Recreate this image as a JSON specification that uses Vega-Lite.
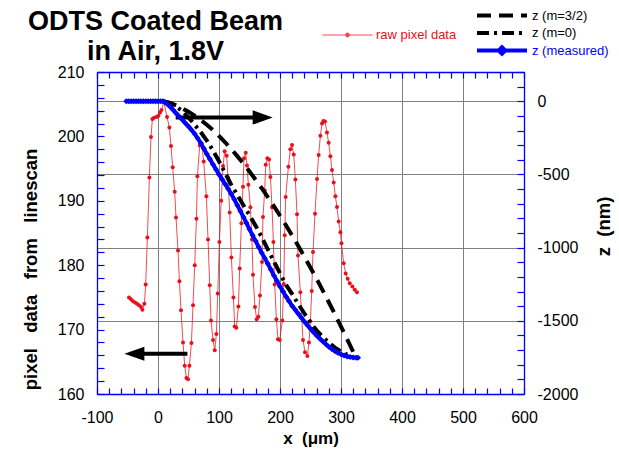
{
  "$schema": "https://vega.github.io/schema/vega-lite/v6.json",
  "width": 427,
  "height": 322,
  "autosize": {"type": "none"},
  "padding": {"left": 97, "top": 72, "right": 95, "bottom": 55},
  "background": "white",
  "config": {
    "font": "Liberation Sans",
    "view": {"stroke": null},
    "axis": {"labelFont": "Liberation Sans", "titleFont": "Liberation Sans", "labelColor": "#000000", "titleColor": "#000000"},
    "legend": {"labelFont": "Liberation Sans"}
  },
  "title": {
    "text": ["ODTS Coated Beam", "in Air, 1.8V"],
    "frame": "group",
    "anchor": "start",
    "align": "center",
    "dx": 58.5,
    "dy": 92,
    "fontSize": 27,
    "fontWeight": "bold",
    "lineHeight": 30,
    "offset": 13,
    "baseline": "alphabetic",
    "color": "#000000",
    "font": "Liberation Sans"
  },
  "datasets": {
    "raw": [
      {"x": -47.5, "v": 175.0}, {"x": -44.3, "v": 174.7}, {"x": -41.0, "v": 174.4}, {"x": -37.7, "v": 174.2},
      {"x": -34.4, "v": 174.0}, {"x": -31.1, "v": 173.8}, {"x": -27.9, "v": 173.5}, {"x": -25.6, "v": 173.1},
      {"x": -22.3, "v": 174.0}, {"x": -20.2, "v": 177.0}, {"x": -17.4, "v": 184.3}, {"x": -14.1, "v": 193.6},
      {"x": -11.5, "v": 199.9}, {"x": -9.2, "v": 202.7}, {"x": -6.6, "v": 202.9}, {"x": -2.6, "v": 203.0},
      {"x": 0.7, "v": 203.2}, {"x": 3.3, "v": 203.7}, {"x": 5.6, "v": 204.1}, {"x": 9.8, "v": 205.3},
      {"x": 14.8, "v": 203.0}, {"x": 18.7, "v": 201.4}, {"x": 21.3, "v": 198.5}, {"x": 24.1, "v": 195.2},
      {"x": 27.4, "v": 191.4}, {"x": 29.5, "v": 187.4}, {"x": 32.8, "v": 182.3}, {"x": 35.1, "v": 177.5},
      {"x": 37.7, "v": 173.0}, {"x": 41.0, "v": 168.0}, {"x": 43.8, "v": 164.4}, {"x": 46.6, "v": 162.5},
      {"x": 49.2, "v": 162.3}, {"x": 51.5, "v": 164.4}, {"x": 54.8, "v": 167.9}, {"x": 57.4, "v": 173.8},
      {"x": 60.2, "v": 180.0}, {"x": 63.0, "v": 187.2}, {"x": 64.6, "v": 193.8}, {"x": 68.4, "v": 198.6},
      {"x": 71.6, "v": 198.9}, {"x": 74.9, "v": 196.1}, {"x": 79.3, "v": 190.7}, {"x": 82.0, "v": 184.0},
      {"x": 84.8, "v": 176.9}, {"x": 86.9, "v": 171.4}, {"x": 90.2, "v": 168.4}, {"x": 93.0, "v": 166.8},
      {"x": 95.7, "v": 169.3}, {"x": 97.9, "v": 175.6}, {"x": 100.7, "v": 183.6}, {"x": 103.6, "v": 190.0},
      {"x": 106.6, "v": 195.4}, {"x": 109.3, "v": 197.7}, {"x": 112.6, "v": 197.0}, {"x": 114.8, "v": 193.6},
      {"x": 117.5, "v": 188.2}, {"x": 120.3, "v": 181.2}, {"x": 123.6, "v": 175.0}, {"x": 125.7, "v": 170.5},
      {"x": 128.5, "v": 170.3}, {"x": 131.8, "v": 173.6}, {"x": 133.9, "v": 179.5}, {"x": 136.7, "v": 186.5},
      {"x": 139.3, "v": 192.2}, {"x": 141.0, "v": 196.6}, {"x": 143.8, "v": 197.45}, {"x": 145.9, "v": 195.5},
      {"x": 148.2, "v": 192.5}, {"x": 151.5, "v": 189.0}, {"x": 154.0, "v": 184.0}, {"x": 155.7, "v": 178.5},
      {"x": 159.0, "v": 173.5}, {"x": 161.8, "v": 171.6}, {"x": 164.6, "v": 172.0}, {"x": 167.2, "v": 175.3},
      {"x": 170.5, "v": 180.5}, {"x": 172.1, "v": 187.5}, {"x": 174.9, "v": 191.6}, {"x": 176.6, "v": 195.6},
      {"x": 179.3, "v": 196.6}, {"x": 182.0, "v": 196.4}, {"x": 184.3, "v": 193.7}, {"x": 186.9, "v": 189.0},
      {"x": 189.2, "v": 183.6}, {"x": 191.3, "v": 177.0}, {"x": 194.1, "v": 171.6}, {"x": 196.7, "v": 168.5},
      {"x": 199.5, "v": 168.4}, {"x": 203.9, "v": 171.4}, {"x": 206.1, "v": 177.1}, {"x": 207.7, "v": 184.65},
      {"x": 209.3, "v": 190.6}, {"x": 213.8, "v": 195.3}, {"x": 217.0, "v": 198.0}, {"x": 219.7, "v": 198.65},
      {"x": 222.5, "v": 197.2}, {"x": 225.2, "v": 193.3}, {"x": 227.9, "v": 187.9}, {"x": 229.5, "v": 181.5},
      {"x": 233.4, "v": 175.8}, {"x": 237.7, "v": 168.4}, {"x": 241.0, "v": 166.5}, {"x": 244.9, "v": 165.9},
      {"x": 247.5, "v": 168.0}, {"x": 249.8, "v": 171.3}, {"x": 252.0, "v": 176.0}, {"x": 254.1, "v": 182.05},
      {"x": 257.4, "v": 188.0}, {"x": 260.7, "v": 193.4}, {"x": 263.4, "v": 197.1}, {"x": 266.2, "v": 200.1},
      {"x": 268.9, "v": 202.0}, {"x": 271.1, "v": 202.4}, {"x": 273.8, "v": 202.3}, {"x": 277.0, "v": 200.6},
      {"x": 279.8, "v": 199.0}, {"x": 282.6, "v": 196.9}, {"x": 285.2, "v": 194.8}, {"x": 288.0, "v": 192.85},
      {"x": 290.8, "v": 190.7}, {"x": 293.4, "v": 189.05}, {"x": 296.2, "v": 186.8}, {"x": 299.0, "v": 185.1},
      {"x": 300.7, "v": 183.4}, {"x": 304.4, "v": 180.3}, {"x": 307.7, "v": 178.7}, {"x": 311.0, "v": 177.9},
      {"x": 314.3, "v": 177.2}, {"x": 318.7, "v": 176.7}, {"x": 322.5, "v": 176.2}, {"x": 326.2, "v": 175.8}
    ],
    "shafts": [
      {"x": 29, "x2": 162, "y": 202.95},
      {"x": -32, "x2": 48.2, "y": 166.25}
    ],
    "heads": [
      {"x": 171.6, "y": 202.95, "dir": "right"},
      {"x": -38.7, "y": 166.25, "dir": "left"}
    ],
    "z": [
      {"s": "z (m=3/2)", "x": 8, "z": 0}, {"s": "z (m=3/2)", "x": 20, "z": -12}, {"s": "z (m=3/2)", "x": 30, "z": -29},
      {"s": "z (m=3/2)", "x": 40, "z": -49}, {"s": "z (m=3/2)", "x": 50, "z": -72}, {"s": "z (m=3/2)", "x": 60, "z": -98},
      {"s": "z (m=3/2)", "x": 70, "z": -128}, {"s": "z (m=3/2)", "x": 80, "z": -160}, {"s": "z (m=3/2)", "x": 90, "z": -196},
      {"s": "z (m=3/2)", "x": 100, "z": -237}, {"s": "z (m=3/2)", "x": 110, "z": -280}, {"s": "z (m=3/2)", "x": 120, "z": -326},
      {"s": "z (m=3/2)", "x": 130, "z": -375}, {"s": "z (m=3/2)", "x": 140, "z": -426}, {"s": "z (m=3/2)", "x": 150, "z": -480},
      {"s": "z (m=3/2)", "x": 160, "z": -536}, {"s": "z (m=3/2)", "x": 170, "z": -594}, {"s": "z (m=3/2)", "x": 180, "z": -655},
      {"s": "z (m=3/2)", "x": 190, "z": -717}, {"s": "z (m=3/2)", "x": 200, "z": -782}, {"s": "z (m=3/2)", "x": 210, "z": -849},
      {"s": "z (m=3/2)", "x": 220, "z": -918}, {"s": "z (m=3/2)", "x": 230, "z": -989}, {"s": "z (m=3/2)", "x": 240, "z": -1062},
      {"s": "z (m=3/2)", "x": 250, "z": -1137}, {"s": "z (m=3/2)", "x": 260, "z": -1213}, {"s": "z (m=3/2)", "x": 270, "z": -1292},
      {"s": "z (m=3/2)", "x": 280, "z": -1373}, {"s": "z (m=3/2)", "x": 290, "z": -1455}, {"s": "z (m=3/2)", "x": 300, "z": -1539},
      {"s": "z (m=3/2)", "x": 310, "z": -1625}, {"s": "z (m=3/2)", "x": 320, "z": -1712},
      {"s": "z (m=0)", "x": 8, "z": 0}, {"s": "z (m=0)", "x": 20, "z": -12}, {"s": "z (m=0)", "x": 30, "z": -35},
      {"s": "z (m=0)", "x": 40, "z": -68}, {"s": "z (m=0)", "x": 50, "z": -110}, {"s": "z (m=0)", "x": 60, "z": -160},
      {"s": "z (m=0)", "x": 70, "z": -210}, {"s": "z (m=0)", "x": 80, "z": -268}, {"s": "z (m=0)", "x": 90, "z": -335},
      {"s": "z (m=0)", "x": 100, "z": -410}, {"s": "z (m=0)", "x": 110, "z": -490}, {"s": "z (m=0)", "x": 120, "z": -570},
      {"s": "z (m=0)", "x": 130, "z": -640}, {"s": "z (m=0)", "x": 140, "z": -710}, {"s": "z (m=0)", "x": 150, "z": -778},
      {"s": "z (m=0)", "x": 160, "z": -850}, {"s": "z (m=0)", "x": 170, "z": -928}, {"s": "z (m=0)", "x": 180, "z": -1012},
      {"s": "z (m=0)", "x": 190, "z": -1095}, {"s": "z (m=0)", "x": 200, "z": -1175}, {"s": "z (m=0)", "x": 210, "z": -1255},
      {"s": "z (m=0)", "x": 220, "z": -1318}, {"s": "z (m=0)", "x": 230, "z": -1385}, {"s": "z (m=0)", "x": 240, "z": -1450},
      {"s": "z (m=0)", "x": 250, "z": -1512}, {"s": "z (m=0)", "x": 260, "z": -1565}, {"s": "z (m=0)", "x": 270, "z": -1610},
      {"s": "z (m=0)", "x": 280, "z": -1648}, {"s": "z (m=0)", "x": 290, "z": -1683}, {"s": "z (m=0)", "x": 300, "z": -1710},
      {"s": "z (m=0)", "x": 310, "z": -1730},
      {"s": "z (measured)", "x": -52, "z": 0}, {"s": "z (measured)", "x": -48, "z": 0}, {"s": "z (measured)", "x": -44, "z": 0},
      {"s": "z (measured)", "x": -40, "z": 0}, {"s": "z (measured)", "x": -36, "z": 0}, {"s": "z (measured)", "x": -32, "z": 0},
      {"s": "z (measured)", "x": -28, "z": 0}, {"s": "z (measured)", "x": -24, "z": 0}, {"s": "z (measured)", "x": -20, "z": 0},
      {"s": "z (measured)", "x": -16, "z": 0}, {"s": "z (measured)", "x": -12, "z": 0}, {"s": "z (measured)", "x": -8, "z": 0},
      {"s": "z (measured)", "x": -4, "z": 0}, {"s": "z (measured)", "x": 0, "z": 0}, {"s": "z (measured)", "x": 4, "z": 0},
      {"s": "z (measured)", "x": 8, "z": 0}, {"s": "z (measured)", "x": 10, "z": -3}, {"s": "z (measured)", "x": 15, "z": -18},
      {"s": "z (measured)", "x": 20, "z": -38}, {"s": "z (measured)", "x": 25, "z": -60}, {"s": "z (measured)", "x": 30, "z": -83},
      {"s": "z (measured)", "x": 35, "z": -105}, {"s": "z (measured)", "x": 40, "z": -127}, {"s": "z (measured)", "x": 45, "z": -150},
      {"s": "z (measured)", "x": 50, "z": -172}, {"s": "z (measured)", "x": 55, "z": -196}, {"s": "z (measured)", "x": 60, "z": -222},
      {"s": "z (measured)", "x": 65, "z": -252}, {"s": "z (measured)", "x": 70, "z": -285}, {"s": "z (measured)", "x": 75, "z": -322},
      {"s": "z (measured)", "x": 80, "z": -360}, {"s": "z (measured)", "x": 85, "z": -395}, {"s": "z (measured)", "x": 90, "z": -430},
      {"s": "z (measured)", "x": 95, "z": -465}, {"s": "z (measured)", "x": 100, "z": -500}, {"s": "z (measured)", "x": 105, "z": -532},
      {"s": "z (measured)", "x": 110, "z": -565}, {"s": "z (measured)", "x": 115, "z": -598}, {"s": "z (measured)", "x": 120, "z": -632},
      {"s": "z (measured)", "x": 125, "z": -670}, {"s": "z (measured)", "x": 130, "z": -710}, {"s": "z (measured)", "x": 135, "z": -750},
      {"s": "z (measured)", "x": 140, "z": -790}, {"s": "z (measured)", "x": 145, "z": -832}, {"s": "z (measured)", "x": 150, "z": -875},
      {"s": "z (measured)", "x": 155, "z": -915}, {"s": "z (measured)", "x": 160, "z": -955}, {"s": "z (measured)", "x": 165, "z": -995},
      {"s": "z (measured)", "x": 170, "z": -1035}, {"s": "z (measured)", "x": 175, "z": -1072}, {"s": "z (measured)", "x": 180, "z": -1110},
      {"s": "z (measured)", "x": 185, "z": -1150}, {"s": "z (measured)", "x": 190, "z": -1190}, {"s": "z (measured)", "x": 195, "z": -1228},
      {"s": "z (measured)", "x": 200, "z": -1265}, {"s": "z (measured)", "x": 205, "z": -1300}, {"s": "z (measured)", "x": 210, "z": -1335},
      {"s": "z (measured)", "x": 215, "z": -1367}, {"s": "z (measured)", "x": 220, "z": -1398}, {"s": "z (measured)", "x": 225, "z": -1425},
      {"s": "z (measured)", "x": 230, "z": -1452}, {"s": "z (measured)", "x": 235, "z": -1479}, {"s": "z (measured)", "x": 240, "z": -1505},
      {"s": "z (measured)", "x": 245, "z": -1530}, {"s": "z (measured)", "x": 250, "z": -1555}, {"s": "z (measured)", "x": 255, "z": -1578},
      {"s": "z (measured)", "x": 260, "z": -1600}, {"s": "z (measured)", "x": 265, "z": -1620}, {"s": "z (measured)", "x": 270, "z": -1640},
      {"s": "z (measured)", "x": 275, "z": -1659}, {"s": "z (measured)", "x": 280, "z": -1677}, {"s": "z (measured)", "x": 285, "z": -1693},
      {"s": "z (measured)", "x": 290, "z": -1707}, {"s": "z (measured)", "x": 295, "z": -1719}, {"s": "z (measured)", "x": 300, "z": -1729},
      {"s": "z (measured)", "x": 305, "z": -1737}, {"s": "z (measured)", "x": 310, "z": -1743}, {"s": "z (measured)", "x": 315, "z": -1747},
      {"s": "z (measured)", "x": 320, "z": -1750}, {"s": "z (measured)", "x": 325, "z": -1752}, {"s": "z (measured)", "x": 328, "z": -1753}
    ]
  },
  "layer": [
    {
      "layer": [
        {
          "data": {"name": "raw"},
          "mark": {"type": "line", "strokeWidth": 1, "opacity": 0.75, "point": {"filled": true, "size": 16, "opacity": 1}},
          "encoding": {
            "x": {
              "field": "x", "type": "quantitative",
              "scale": {"domain": [-100, 600], "nice": false, "zero": false},
              "axis": {
                "orient": "bottom",
                "values": [-100, -80, -60, -40, -20, 0, 20, 40, 60, 80, 100, 120, 140, 160, 180, 200, 220, 240, 260, 280, 300, 320, 340, 360, 380, 400, 420, 440, 460, 480, 500, 520, 540, 560, 580, 600],
                "tickCount": 200,
                "labelExpr": "datum.value % 100 === 0 ? '' + datum.value : ''",
                "tickSize": -6,
                "tickColor": "#0000ff", "tickWidth": 1.2,
                "domainColor": "#0000ff", "domainWidth": 1.3,
                "grid": true, "gridColor": "#808080", "gridWidth": 1,
                "gridOpacity": {"condition": {"test": "datum.value % 100 === 0 && datum.value > -100 && datum.value < 600", "value": 1}, "value": 0},
                "labelFontSize": 16, "labelPadding": 21, "labelFlush": false, "labelOverlap": false,
                "title": "x\u00a0 (\u03bcm)", "titleFontSize": 17, "titleFontWeight": "bold",
                "titleY": 44, "titleBaseline": "middle"
              }
            },
            "y": {
              "field": "v", "type": "quantitative",
              "scale": {"domain": [160, 210], "nice": false, "zero": false},
              "axis": {
                "orient": "left",
                "values": [160, 162, 164, 166, 168, 170, 172, 174, 176, 178, 180, 182, 184, 186, 188, 190, 192, 194, 196, 198, 200, 202, 204, 206, 208, 210],
                "tickCount": 200,
                "labelExpr": "datum.value % 10 === 0 ? '' + datum.value : ''",
                "tickSize": -7,
                "tickColor": "#0000ff", "tickWidth": 1.2,
                "domainColor": "#0000ff", "domainWidth": 1.3,
                "grid": false,
                "labelFontSize": 16, "labelPadding": 20, "labelFlush": false, "labelOverlap": false,
                "title": "pixel\u00a0\u00a0 data\u00a0\u00a0 from\u00a0\u00a0 linescan", "titleFontSize": 18.5, "titleFontWeight": "bold",
                "titleX": -67, "titleY": 197, "titleBaseline": "middle", "titleAlign": "center", "titleAngle": 270
              }
            },
            "color": {
              "datum": "raw pixel data",
              "type": "nominal",
              "scale": {"domain": ["raw pixel data"], "range": ["#e8101a"]},
              "legend": {
                "orient": "none", "legendX": 225, "legendY": -45, "title": null,
                "symbolType": "M-1,0L1,0M0.08,0A0.08,0.08,0,1,1,-0.08,0A0.08,0.08,0,1,1,0.08,0",
                "symbolSize": 2500, "symbolStrokeWidth": 1,
                "symbolFillColor": "#e8101a", "symbolStrokeColor": "#e8101a",
                "clipHeight": 16, "labelFontSize": 13, "labelOffset": 3, "labelColor": "#e8101a"
              }
            }
          }
        },
        {
          "data": {"name": "shafts"},
          "mark": {"type": "rule", "strokeWidth": 4, "color": "#000000"},
          "encoding": {
            "x": {"field": "x", "type": "quantitative"},
            "x2": {"field": "x2"},
            "y": {"field": "y", "type": "quantitative"}
          }
        },
        {
          "data": {"name": "heads"},
          "mark": {"type": "point", "filled": true, "color": "#000000", "opacity": 1, "size": 400, "strokeWidth": 0},
          "encoding": {
            "x": {"field": "x", "type": "quantitative"},
            "y": {"field": "y", "type": "quantitative"},
            "shape": {
              "field": "dir", "type": "nominal",
              "scale": {"domain": ["right", "left"], "range": ["M-1,-0.72L1,0L-1,0.72Z", "M1,-0.7L-1,0L1,0.7Z"]},
              "legend": null
            }
          }
        }
      ]
    },
    {
      "layer": [
        {
          "data": {"name": "z"},
          "mark": {"type": "line"},
          "encoding": {
            "x": {
              "field": "x", "type": "quantitative",
              "scale": {"domain": [-100, 600], "nice": false, "zero": false},
              "axis": {
                "orient": "top",
                "values": [-100, -80, -60, -40, -20, 0, 20, 40, 60, 80, 100, 120, 140, 160, 180, 200, 220, 240, 260, 280, 300, 320, 340, 360, 380, 400, 420, 440, 460, 480, 500, 520, 540, 560, 580, 600],
                "tickCount": 200,
                "labels": false,
                "tickSize": -6,
                "tickColor": "#0000ff", "tickWidth": 1.2,
                "domainColor": "#0000ff", "domainWidth": 1.3,
                "grid": false, "title": null
              }
            },
            "y": {
              "field": "z", "type": "quantitative",
              "scale": {"domain": [-2000, 200], "nice": false, "zero": false},
              "axis": {
                "orient": "right",
                "values": [-2000, -1900, -1800, -1700, -1600, -1500, -1400, -1300, -1200, -1100, -1000, -900, -800, -700, -600, -500, -400, -300, -200, -100, 0, 100, 200],
                "tickCount": 200,
                "labelExpr": "datum.value % 500 === 0 ? '' + datum.value : ''",
                "tickSize": -7,
                "tickColor": "#0000ff", "tickWidth": 1.2,
                "domainColor": "#0000ff", "domainWidth": 1.3,
                "grid": true, "gridColor": "#808080", "gridWidth": 1,
                "gridOpacity": {"condition": {"test": "datum.value % 500 === 0 && datum.value > -2000 && datum.value < 200", "value": 1}, "value": 0},
                "labelFontSize": 16, "labelPadding": 20, "labelFlush": false, "labelOverlap": false,
                "title": "z\u00a0 (nm)", "titleFontSize": 18.5, "titleFontWeight": "bold",
                "titleX": 79, "titleY": 154, "titleBaseline": "middle", "titleAlign": "center", "titleAngle": 270
              }
            },
            "color": {
              "field": "s", "type": "nominal",
              "scale": {"domain": ["z (m=3/2)", "z (m=0)", "z (measured)"], "range": ["#000000", "#000000", "#0000ff"]},
              "legend": {
                "orient": "none", "legendX": 378, "legendY": -64, "title": null,
                "symbolType": "stroke", "symbolSize": 2500, "symbolStrokeWidth": 3.5,
                "clipHeight": 15, "rowPadding": 2.5, "labelFontSize": 13, "labelOffset": 3,
                "encode": {
                  "labels": {"update": {"fill": {"signal": "datum.label === 'z (measured)' ? '#0000ff' : '#000000'"}}},
                  "symbols": {"update": {
                    "shape": {"signal": "datum.label === 'z (measured)' ? 'M-1,0L1,0M0,-0.13L0.13,0L0,0.13L-0.13,0Z' : 'stroke'"},
                    "fill": {"signal": "datum.label === 'z (measured)' ? '#0000ff' : 'transparent'"}
                  }}
                }
              }
            },
            "strokeDash": {
              "field": "s", "type": "nominal",
              "scale": {"domain": ["z (m=3/2)", "z (m=0)", "z (measured)"], "range": [[14, 8], [12, 5, 3, 5], [1, 0]]},
              "legend": {
                "orient": "none", "legendX": 378, "legendY": -64, "title": null,
                "symbolType": "stroke", "symbolSize": 2500, "symbolStrokeWidth": 3.5,
                "clipHeight": 15, "rowPadding": 2.5, "labelFontSize": 13, "labelOffset": 3
              }
            },
            "strokeWidth": {
              "field": "s", "type": "nominal",
              "scale": {"domain": ["z (m=3/2)", "z (m=0)", "z (measured)"], "range": [4, 4, 4]},
              "legend": null
            }
          }
        },
        {
          "data": {"name": "z"},
          "transform": [{"filter": "datum.s === 'z (measured)'"}],
          "mark": {"type": "point", "shape": "diamond", "filled": true, "color": "#0000ff", "size": 36, "opacity": 1},
          "encoding": {
            "x": {"field": "x", "type": "quantitative"},
            "y": {"field": "z", "type": "quantitative"}
          }
        }
      ]
    }
  ],
  "resolve": {
    "scale": {"y": "independent", "color": "independent", "strokeDash": "independent", "strokeWidth": "independent", "shape": "independent"},
    "axis": {"x": "independent", "y": "independent"},
    "legend": {"color": "independent", "strokeDash": "independent"}
  }
}
